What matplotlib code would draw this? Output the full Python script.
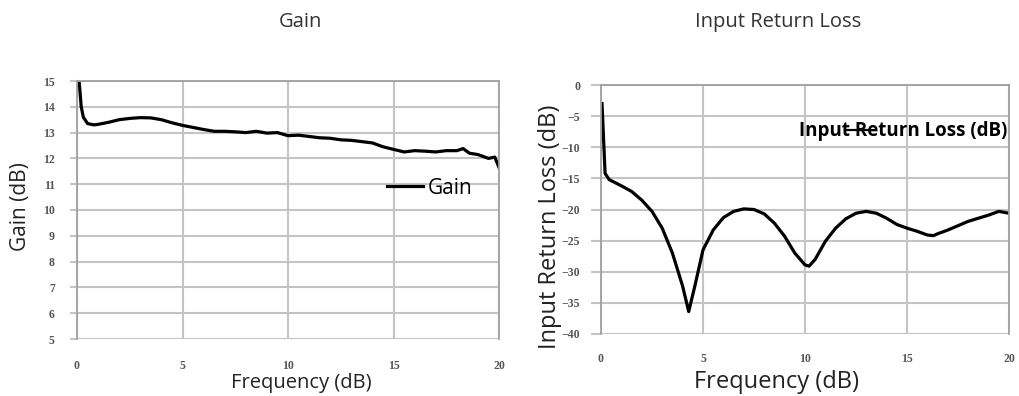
import numpy as np
import matplotlib.pyplot as plt
from matplotlib.lines import Line2D

# gain curve
gain_freq = [0.1, 0.2, 0.3, 0.5, 0.8, 1.0, 1.5, 2.0, 2.5, 3.0, 3.5, 4.0, 4.5, 5.0, 5.5,
             6.0, 6.5, 7.0, 7.5, 8.0, 8.5, 9.0, 9.5, 10.0, 10.5, 11.0, 11.5, 12.0, 12.5,
             13.0, 13.5, 14.0, 14.5, 15.0, 15.5, 16.0, 16.5, 17.0, 17.5, 18.0, 18.3, 18.6,
             19.0, 19.5, 19.8, 20.0]
gain_db = [15.0, 14.0, 13.6, 13.35, 13.3, 13.32, 13.4, 13.5, 13.55, 13.58, 13.57, 13.5,
           13.38, 13.28, 13.2, 13.12, 13.05, 13.05, 13.03, 13.0, 13.05, 12.98, 13.0, 12.88,
           12.9, 12.85, 12.8, 12.78, 12.72, 12.7, 12.65, 12.6, 12.45, 12.35, 12.25, 12.3,
           12.28, 12.25, 12.3, 12.3, 12.38, 12.2, 12.15, 12.0, 12.05, 11.65]

# input return loss curve
irl_freq = [0.05, 0.2, 0.4, 1.0, 1.5, 2.0, 2.5, 3.0, 3.5, 4.0, 4.3, 4.6, 5.0, 5.5, 6.0,
            6.5, 7.0, 7.5, 8.0, 8.5, 9.0, 9.5, 10.0, 10.2, 10.5, 11.0, 11.5, 12.0, 12.5,
            13.0, 13.5, 14.0, 14.5, 15.0, 15.5, 16.0, 16.3, 16.5, 17.0, 17.5, 18.0, 18.5,
            19.0, 19.5, 20.0]
irl_db = [-3.0, -14.2, -15.2, -16.2, -17.1, -18.5, -20.3, -23.0, -27.0, -32.3, -36.4,
          -32.3, -26.5, -23.3, -21.3, -20.3, -19.9, -20.0, -20.7, -22.2, -24.3, -27.0,
          -28.9, -29.1, -28.0, -25.1, -23.0, -21.5, -20.6, -20.3, -20.6, -21.4, -22.4,
          -23.0, -23.5, -24.1, -24.2, -23.9, -23.3, -22.6, -21.9, -21.4, -20.9, -20.3, -20.6]

gain_yticks = list(range(5, 16))
irl_yticks = list(range(-40, 1, 5))
xticks = [0, 5, 10, 15, 20]

W, H = 1019, 396
fig = plt.figure(figsize=(W / 100, H / 100), dpi=100)

grid_c = '#c4c4c4'
spine_c = '#a0a0a0'


def style_axes(ax, yticks, ylen, ypad, xpad):
    ax.set_xlim(0, 20)
    ax.set_ylim(yticks[0], yticks[-1])
    ax.set_xticks(xticks)
    ax.set_yticks(yticks)
    ax.grid(True, color=grid_c, lw=1.5)
    ax.set_axisbelow(True)
    for s in ax.spines.values():
        s.set_color(spine_c)
        s.set_linewidth(1.3)
    ax.spines['bottom'].set_visible(False)
    ax.tick_params(axis='y', length=ylen, color=grid_c, width=1.5, pad=ypad)
    ax.tick_params(axis='x', length=0, pad=xpad)
    for lbl in ax.get_xticklabels() + ax.get_yticklabels():
        lbl.set_fontfamily('Liberation Serif')
        lbl.set_fontsize(8.5)
        lbl.set_fontweight('bold')
        lbl.set_color('#555555')


# left: Gain
ax1 = fig.add_axes([77 / W, 1 - 339 / H, 422 / W, 258 / H])
ax1.plot(gain_freq, gain_db, color='black', lw=2.3)
style_axes(ax1, gain_yticks, 5, 11, 15)
ax1.set_xlabel('Frequency (dB)', fontsize=14.5, family='Open Sans', color='#222222')
ax1.xaxis.set_label_coords(0.531, -0.171)
ax1.xaxis.label.set_va('center')
ax1.set_ylabel('Gain (dB)', fontsize=15, family='Open Sans', color='#222222')
ax1.yaxis.set_label_coords(-0.133, 0.512)
ax1.yaxis.label.set_va('center')
ax1.legend([Line2D([], [], color='black', lw=2.3)], ['Gain'], frameon=False,
           loc='center left', bbox_to_anchor=(0.735, 0.585),
           prop={'family': 'Open Sans', 'size': 15},
           borderpad=0, borderaxespad=0, handlelength=1.73, handletextpad=0.24)

# right: Input Return Loss
ax2 = fig.add_axes([601 / W, 1 - 334 / H, 408 / W, 249 / H])
ax2.plot(irl_freq, irl_db, color='black', lw=2.3)
style_axes(ax2, irl_yticks, 7, 8, 14)
ax2.set_xlabel('Frequency (dB)', fontsize=17, family='Open Sans', color='#222222')
ax2.xaxis.set_label_coords(0.431, -0.193)
ax2.xaxis.label.set_va('center')
ax2.set_ylabel('Input Return Loss (dB)', fontsize=17, family='Open Sans', color='#222222')
ax2.yaxis.set_label_coords(-0.125, 0.43)
ax2.yaxis.label.set_va('center')
ax2.legend([Line2D([], [], color='black', lw=1.6)], ['Input Return Loss (dB)'], frameon=False,
           loc='center left', bbox_to_anchor=(0.598, 0.815),
           prop={'family': 'Open Sans', 'size': 13.5, 'weight': 'bold'},
           borderpad=0, borderaxespad=0, handlelength=1.3, handletextpad=-3.75)

fig.text(300 / W, 1 - 22 / H, 'Gain', ha='center', va='center', fontsize=14.5,
         family='Open Sans', color='#333333')
fig.text(778 / W, 1 - 22 / H, 'Input Return Loss', ha='center', va='center', fontsize=14.5,
         family='Open Sans', color='#333333')

fig.savefig('out.png', dpi=100)
